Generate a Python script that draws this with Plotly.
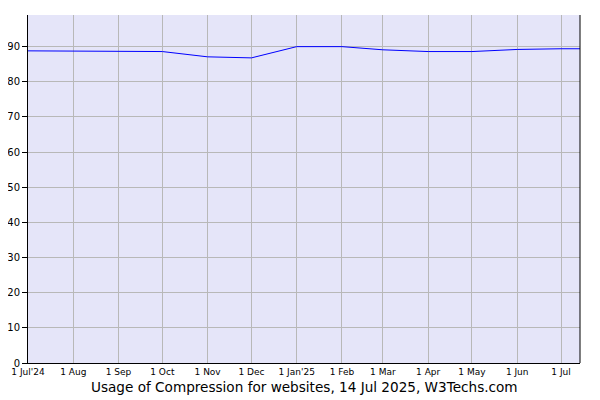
import plotly.graph_objects as go

# Monthly usage of compression (% of websites)
dates = [
    "2024-07-01", "2024-08-01", "2024-09-01", "2024-10-01", "2024-11-01",
    "2024-12-01", "2025-01-01", "2025-02-01", "2025-03-01", "2025-04-01",
    "2025-05-01", "2025-06-01", "2025-07-01", "2025-07-14",
]
usage = [88.8, 88.8, 88.8, 88.6, 87.1, 86.8, 90.0, 90.0, 89.1, 88.6, 88.6, 89.2, 89.4, 89.4]

tick_dates = [
    "2024-07-01", "2024-08-01", "2024-09-01", "2024-10-01", "2024-11-01",
    "2024-12-01", "2025-01-01", "2025-02-01", "2025-03-01", "2025-04-01",
    "2025-05-01", "2025-06-01", "2025-07-01",
]
tick_labels = [
    "1 Jul'24", "1 Aug", "1 Sep", "1 Oct", "1 Nov", "1 Dec", "1 Jan'25",
    "1 Feb", "1 Mar", "1 Apr", "1 May", "1 Jun", "1 Jul",
]
y_ticks = [0, 10, 20, 30, 40, 50, 60, 70, 80, 90]

fig = go.Figure()
fig.add_trace(
    go.Scatter(x=dates, y=usage, mode="lines", line=dict(color="#0000ff", width=1),
               hoverinfo="skip")
)

# the page adds an 8px body margin, so margins are shifted to compensate
fig.update_layout(
    width=600,
    height=400,
    margin=dict(l=20, r=28, t=7, b=45, autoexpand=False),
    paper_bgcolor="white",
    plot_bgcolor="#e5e5f9",
    showlegend=False,
    font=dict(family="DejaVu Sans", color="black"),
)
fig.update_xaxes(
    range=["2024-07-01", "2025-07-14"],
    tickvals=tick_dates,
    ticktext=tick_labels,
    tickfont=dict(size=9),
    showgrid=True,
    gridcolor="#b8b8b8",
    gridwidth=1,
    showline=True,
    linecolor="black",
    linewidth=1,
    ticks="",
    zeroline=False,
    automargin=False,
)
fig.update_yaxes(
    range=[0, 99],
    tickvals=y_ticks,
    tickfont=dict(size=10),
    showgrid=True,
    gridcolor="#b8b8b8",
    gridwidth=1,
    showline=True,
    linecolor="black",
    linewidth=1,
    ticks="outside",
    ticklen=5,
    tickcolor="black",
    zeroline=False,
    automargin=False,
)
# right border line
fig.add_shape(type="line", xref="paper", yref="paper", x0=1, x1=1, y0=0, y1=1,
              line=dict(color="black", width=1))

fig.add_annotation(
    text="Usage of Compression for websites, 14 Jul 2025, W3Techs.com",
    xref="paper", yref="paper", x=0.5, y=-0.069, yanchor="middle",
    showarrow=False, font=dict(size=13.6),
)

fig.write_html("out.html")
